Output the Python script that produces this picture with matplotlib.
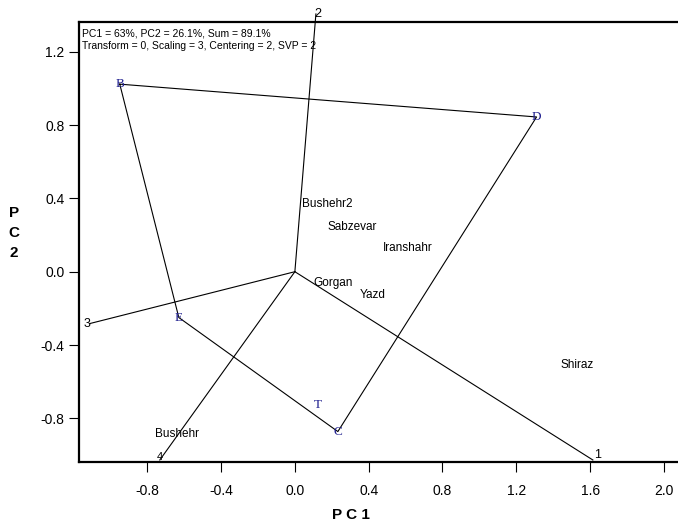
import matplotlib
matplotlib.use("Agg")
import matplotlib.pyplot as plt

plt.rcParams['font.family'] = ['Liberation Sans', 'DejaVu Sans']
plt.rcParams['axes.unicode_minus'] = False

# genotypes (blue letters), polygon vertices in drawing order
gen_names = ["B", "D", "C", "E", "T"]
gen_x = [-0.949, 1.310, 0.233, -0.629, 0.125]
gen_y = [1.023, 0.844, -0.872, -0.250, -0.727]
polygon = ["B", "D", "C", "E"]

# environments (black text)
env_names = ["Bushehr2", "Sabzevar", "Iranshahr", "Gorgan", "Yazd", "Shiraz", "Bushehr"]
env_x = [0.178, 0.309, 0.612, 0.206, 0.420, 1.528, -0.640]
env_y = [0.369, 0.244, 0.130, -0.060, -0.125, -0.509, -0.885]

# sector rays from origin
ray_names = ["1", "2", "3", "4"]
ray_x = [1.615, 0.114, -1.112, -0.732]
ray_y = [-1.027, 1.406, -0.283, -1.027]

xticks = [-0.8, -0.4, 0.0, 0.4, 0.8, 1.2, 1.6, 2.0]
yticks = [-0.8, -0.4, 0.0, 0.4, 0.8, 1.2]

fig = plt.figure(figsize=(6.78, 5.25), dpi=100)
ax = fig.add_axes([79/678, 63/525, 612/678, 440/525])
ax.set_xlim(-1.17, 2.147)
ax.set_ylim(-1.038, 1.362)

# polygon
px = [gen_x[gen_names.index(g)] for g in polygon] + [gen_x[gen_names.index(polygon[0])]]
py = [gen_y[gen_names.index(g)] for g in polygon] + [gen_y[gen_names.index(polygon[0])]]
ax.plot(px, py, color="black", lw=0.8)

# rays
for name, x, y in zip(ray_names, ray_x, ray_y):
    ax.plot([0, x], [0, y], color="black", lw=0.8, clip_on=False)
ax.text(ray_x[0] + 0.005, ray_y[0] - 0.005, "1", fontsize=9, ha="left", va="bottom")
ax.text(ray_x[1] + 0.01, ray_y[1], "2", fontsize=9, ha="center", va="center", clip_on=False)
ax.text(ray_x[2] + 0.002, ray_y[2], "3", fontsize=9, ha="right", va="center")
ax.text(ray_x[3], ray_y[3] - 0.012, "4", fontsize=8, ha="center", va="bottom")

for name, x, y in zip(gen_names, gen_x, gen_y):
    ax.text(x, y, name, fontsize=9.5, color="#1f1f8f", family="Liberation Serif",
            ha="center", va="center")

for name, x, y in zip(env_names, env_x, env_y):
    ax.text(x, y, name, fontsize=8.5, ha="center", va="center")

ax.text(0.005, 0.985, "PC1 = 63%, PC2 = 26.1%, Sum = 89.1%\nTransform = 0, Scaling = 3, Centering = 2, SVP = 2",
        transform=ax.transAxes, fontsize=7.5, ha="left", va="top", linespacing=1.3)

ax.set_xticks(xticks)
ax.set_xticklabels(["%.1f" % v for v in xticks])
ax.set_yticks(yticks)
ax.set_yticklabels(["%.1f" % v for v in yticks])
ax.tick_params(direction="out", length=7.5, width=0.8, labelsize=10, pad=8)
ax.tick_params(axis="y", pad=3)

for s in ax.spines.values():
    s.set_linewidth(1.6)

fig.text(351/678, 1 - 515/525, "P C 1", fontsize=11, fontweight="bold", ha="center", va="center")
fig.text(14/678, 1 - 233/525, "P\nC\n2", fontsize=11, fontweight="bold", ha="center", va="center",
         linespacing=1.55)

fig.savefig("out.png", dpi=100)
